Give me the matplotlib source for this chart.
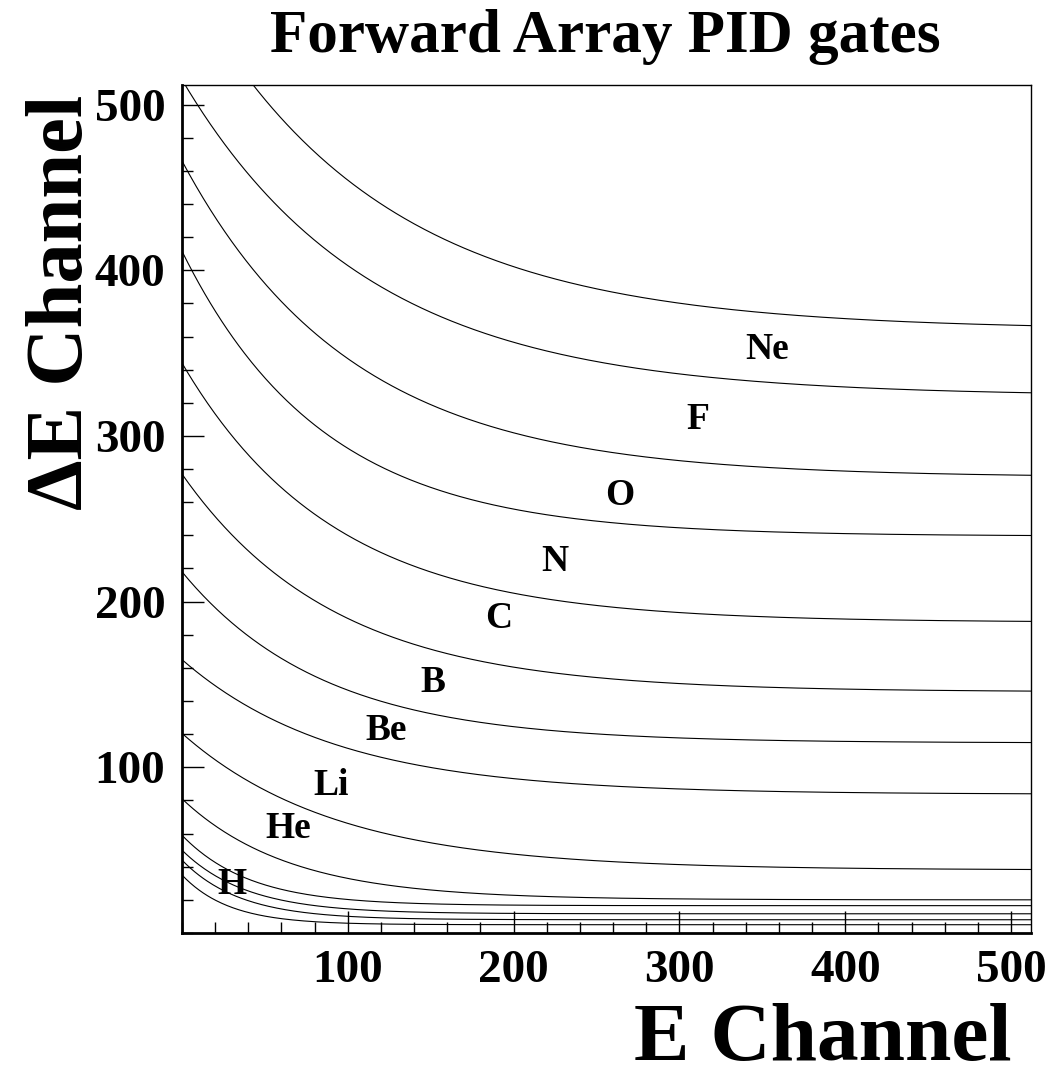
import numpy as np
import matplotlib
matplotlib.use("Agg")
import matplotlib.pyplot as plt
from matplotlib.ticker import MultipleLocator

# PID gate lines: dE(E) = gate_end + (gate_start - gate_end) * exp(-E / gate_decay)
gate_start = [578.0, 515.0, 466.0, 411.5, 344.0, 277.0, 218.0, 165.0, 120.5, 81.0, 59.0, 50.0, 44.0, 35.0]
gate_end = [364.0, 324.0, 275.0, 239.5, 187.5, 145.5, 114.7, 83.7, 38.0, 20.0, 16.5, 11.6, 8.0, 5.0]
gate_decay = [116.0, 113.0, 102.0, 85.0, 91.5, 92.0, 85.0, 93.0, 93.0, 64.5, 41.0, 39.0, 35.0, 28.5]

# element labels and where they sit (E, dE)
elements = ["H", "He", "Li", "Be", "B", "C", "N", "O", "F", "Ne"]
label_e = [30, 64, 90, 123, 151, 191, 225, 264, 311, 353]
label_de = [29.5, 63, 89, 122, 151, 190, 224, 264, 310, 352]

x_ticks = [100, 200, 300, 400, 500]
y_ticks = [100, 200, 300, 400, 500]

FONT = "Liberation Serif"

fig = plt.figure(figsize=(10.54, 10.76), dpi=100)
ax = fig.add_axes([0.17268, 0.13290, 0.80550, 0.78838])

e = np.linspace(0, 512, 600)
for s, f, t in zip(gate_start, gate_end, gate_decay):
    ax.plot(e, f + (s - f) * np.exp(-e / t), color="black", lw=0.8)

for name, xe, yd in zip(elements, label_e, label_de):
    ax.text(xe, yd, name, ha="center", va="center", fontsize=27,
            fontweight="bold", family=FONT)

ax.set_xlim(0, 512)
ax.set_ylim(0, 512)

ax.set_xticks(x_ticks)
ax.set_yticks(y_ticks)
ax.xaxis.set_minor_locator(MultipleLocator(20))
ax.yaxis.set_minor_locator(MultipleLocator(20))
ax.tick_params(which="both", direction="in", top=False, right=False, width=1.0)
ax.tick_params(which="major", length=15.8, pad=12)
ax.tick_params(which="minor", length=7.9)
for lab in ax.get_xticklabels() + ax.get_yticklabels():
    lab.set_fontfamily(FONT)
    lab.set_fontweight("bold")
    lab.set_fontsize(34)

ax.spines["left"].set_linewidth(2.0)
ax.spines["bottom"].set_linewidth(2.0)
ax.spines["top"].set_linewidth(1.0)
ax.spines["right"].set_linewidth(1.0)

fig.text(0.574, 1 - 52 / 1076, "Forward Array PID gates", ha="center",
         va="baseline", fontsize=44, fontweight="bold", family=FONT)
fig.text(1012 / 1054, 1 - 1060 / 1076, "E Channel", ha="right",
         va="baseline", fontsize=60, fontweight="bold", family=FONT)
fig.text(82 / 1054, 1 - 95 / 1076, "\u0394E Channel", ha="right",
         va="baseline", rotation=90, rotation_mode="anchor",
         fontsize=58, fontweight="bold", family=FONT)

fig.savefig("out.png", dpi=100)
